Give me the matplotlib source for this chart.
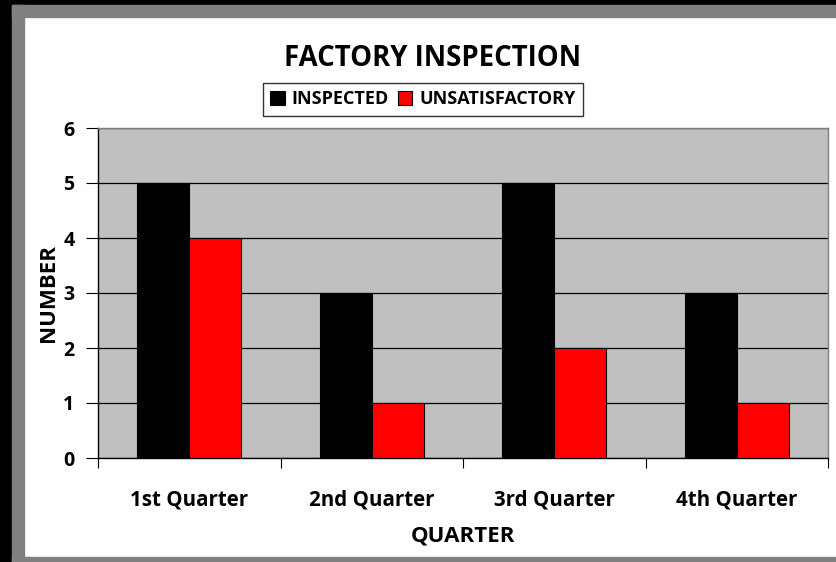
import numpy as np
import matplotlib.pyplot as plt
from matplotlib.patches import Rectangle

quarters = ["1st Quarter", "2nd Quarter", "3rd Quarter", "4th Quarter"]
inspected = [5, 3, 5, 3]
unsatisfactory = [4, 1, 2, 1]

plt.rcParams['font.family'] = ['Open Sans', 'DejaVu Sans']
plt.rcParams['font.weight'] = 'bold'

W, H = 836, 562
fig = plt.figure(figsize=(W / 100, H / 100), dpi=100)
fig.patch.set_facecolor('white')

# frame around the chart: black outer, gray inner band
fig.patches.append(Rectangle((0, 0), 12 / W, 1, transform=fig.transFigure, color='black', zorder=0))
fig.patches.append(Rectangle((0, 1 - 5 / H), 1, 5 / H, transform=fig.transFigure, color='black', zorder=0))
fig.patches.append(Rectangle((12 / W, 0), 12 / W, 1 - 5 / H, transform=fig.transFigure, color='#808080', zorder=0))
fig.patches.append(Rectangle((12 / W, 1 - 17 / H), 1 - 12 / W, 12 / H, transform=fig.transFigure, color='#808080', zorder=0))
fig.patches.append(Rectangle((12 / W, 0), 1 - 12 / W, 5 / H, transform=fig.transFigure, color='#808080', zorder=0))

ax = fig.add_axes([98 / W, (H - 458) / H, (828 - 98) / W, (458 - 128) / H])
ax.set_facecolor('#c0c0c0')

x = np.arange(len(quarters))
bw = 1 / 3.5
b1 = ax.bar(x - bw / 2, inspected, bw, color='black', edgecolor='black', linewidth=0.8, zorder=3, label='INSPECTED')
b2 = ax.bar(x + bw / 2, unsatisfactory, bw, color='#ff0000', edgecolor='black', linewidth=0.8, zorder=3, label='UNSATISFACTORY')

ax.set_xlim(-0.5, len(quarters) - 0.5)
ax.set_ylim(0, 6)
ax.set_yticks(range(7))
ax.yaxis.grid(True, color='black', linewidth=0.9, zorder=1)
ax.set_axisbelow(True)

ax.set_xticks(np.arange(len(quarters) + 1) - 0.5)
ax.set_xticklabels([])
ax.set_xticks(x, minor=True)
ax.set_xticklabels(quarters, minor=True, fontsize=14.8, fontweight='bold')
ax.tick_params(axis='x', which='major', length=7, width=0.8, direction='out')
ax.tick_params(axis='x', which='minor', length=0, pad=23)
ax.tick_params(axis='y', length=9, width=0.8, pad=8, labelsize=14)
for lab in ax.get_yticklabels():
    lab.set_fontweight('bold')

ax.spines['left'].set_color('black')
ax.spines['bottom'].set_color('black')
ax.spines['top'].set_color('#808080')
ax.spines['right'].set_color('#808080')
for s in ax.spines.values():
    s.set_linewidth(1.0)

fig.text(433 / W, 1 - 58 / H, "FACTORY INSPECTION", ha='center', va='center', fontsize=19.8, fontweight='bold')
fig.text(48 / W, 1 - 293 / H, "NUMBER", ha='center', va='center', rotation=90, fontsize=16, fontweight='bold')
fig.text(463 / W, 1 - 536 / H, "QUARTER", ha='center', va='center', fontsize=16, fontweight='bold')

leg = fig.legend(handles=[b1, b2], loc='center', bbox_to_anchor=(423 / W, 1 - 99.5 / H), ncol=2,
                 frameon=True, fancybox=False, shadow=False, prop={'weight': 'bold', 'size': 13},
                 handlelength=0.8, handleheight=0.8, handletextpad=0.4, columnspacing=0.5,
                 borderpad=0.4, borderaxespad=0)
leg.get_frame().set_edgecolor('black')
leg.get_frame().set_linewidth(1.0)

fig.savefig('out.png', dpi=100, facecolor=fig.get_facecolor())
